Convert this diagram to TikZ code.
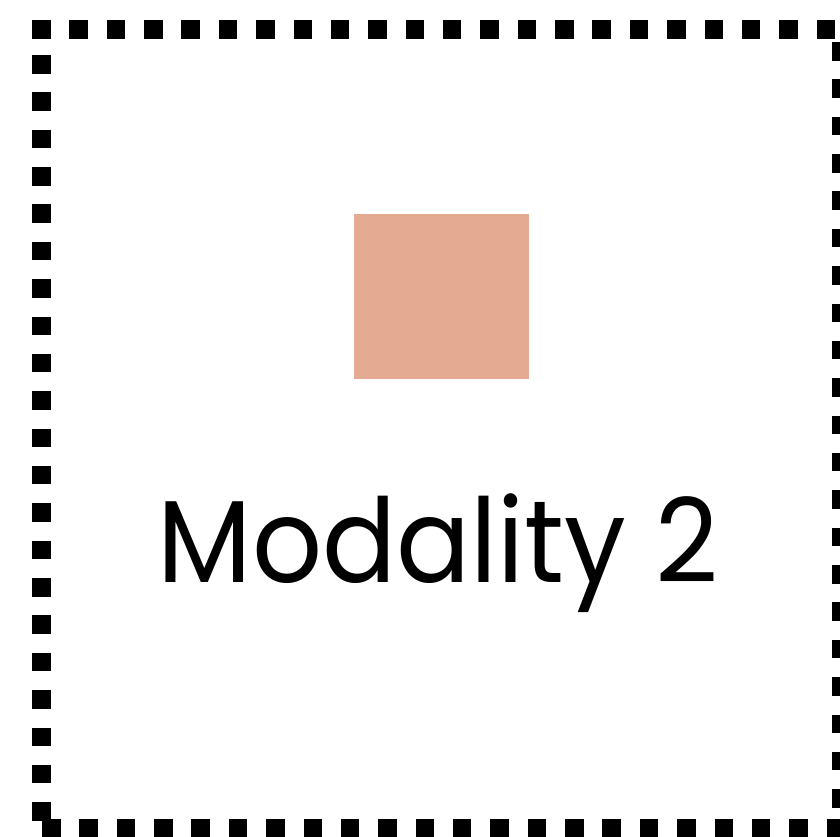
\documentclass[tikz,border=0pt]{standalone}
\usepackage{fontspec}
\setmainfont{Poppins}
\definecolor{salmon}{HTML}{E5AA92}
\begin{document}
\begin{tikzpicture}[x=0.025cm, y=-0.025cm,
    border/.style={line width=0.475cm, dash pattern=on 0.4625cm off 0.4713cm},
    swatch/.style={fill=salmon, draw=none, minimum width=4.375cm, minimum height=4.125cm, inner sep=0pt}]
    \useasboundingbox (0,0) rectangle (840,836);

    % Gepunkteter Rahmen
    \draw[border] (32,29) -- (850,29);
    \draw[border] (41.5,55) -- (41.5,822);
    \draw[border] (841.5,42) -- (841.5,808);
    \draw[border] (42,828.5) -- (850,828.5);

    % Farbfeld und Beschriftung
    \node[swatch] (patch) at (441.5,296.5) {};
    \node[anchor=base, inner sep=0pt, xscale=0.94] (label) at (438.5,582)
        {\fontsize{83}{90}\selectfont Modality 2};
\end{tikzpicture}
\end{document}
